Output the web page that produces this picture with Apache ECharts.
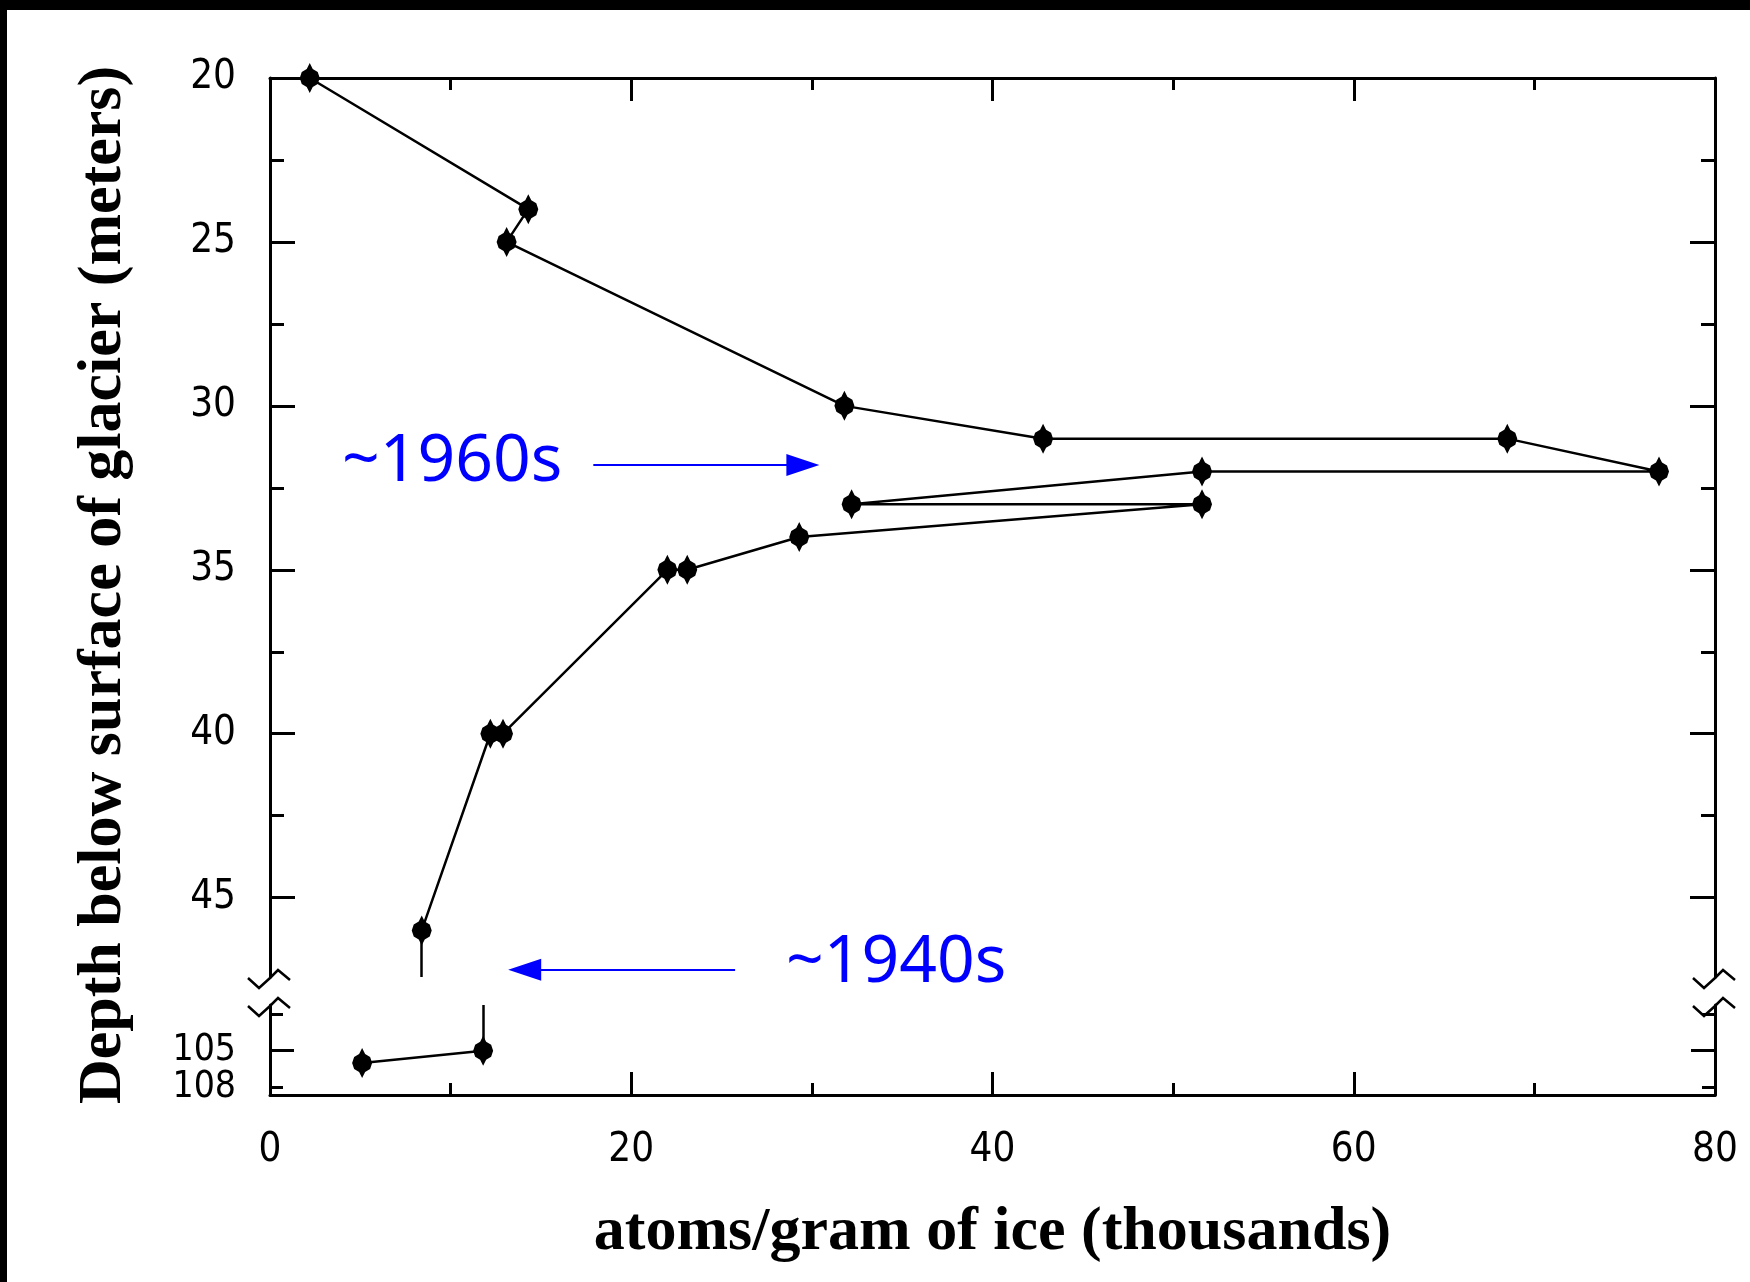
<!DOCTYPE html>
<html>
<head>
<meta charset="utf-8">
<script src="https://cdn.jsdelivr.net/npm/echarts@6/dist/echarts.min.js"></script>
<style>
  html, body { margin: 0; padding: 0; background: #fff; }
  #chart { width: 1750px; height: 1282px; }
</style>
</head>
<body>
<div id="chart"></div>
<script>
// upper section of the core (20 - 46 m)
const atomsUpper = [2.2, 14.3, 13.1, 31.8, 42.8, 68.5, 76.9, 51.6, 32.2, 51.6, 29.3, 23.1, 22.0, 12.9, 12.2, 8.4]
const depthUpper = [20, 24, 25, 30, 31, 31, 32, 32, 33, 33, 34, 35, 35, 40, 40, 46]
// lower section (105 - 108 m)
const atomsLower = [11.8, 5.1]
const depthLower = [105, 106]

const xTicks = [0, 20, 40, 60, 80]
const depthTicksUpper = [20, 25, 30, 35, 40, 45]
const depthMinorUpper = [22.5, 27.5, 32.5, 37.5, 42.5]
const depthTicksLower = [105]
const depthMinorLower = [102, 108]
const depthLabelsLower = [105, 108]

// axis limits either side of the break
const upperRange = [20, 47.42]
const lowerRange = [101.26, 108.63]

// annotation arrows (data coords of the upper panel)
const arrow1960 = [[17.9, 31.8], [29.5, 31.8]]
const arrow1940 = [[25.75, 47.2], [14.1, 47.2]]

const black = '#000'
const blue = '#0000ff'
const tickFont = '"DejaVu Sans Condensed", "Liberation Sans Narrow", sans-serif'
const serif = '"Liberation Serif", "DejaVu Serif", serif'
const diamond = 'path://M10,0 L13,6 L18,9 L20,15 L18,21 L13,24 L10,30 L7,24 L2,21 L0,15 L2,9 L7,6 Z'
const stroke = { color: black, width: 3 }

function atomsAxis(gridIndex, position, withLabels) {
  return {
    type: 'value',
    gridIndex: gridIndex,
    position: position,
    min: xTicks[0],
    max: xTicks[xTicks.length - 1],
    interval: 20,
    axisLine: { show: true, onZero: false, lineStyle: stroke },
    axisTick: { show: true, inside: true, length: 23, lineStyle: stroke },
    minorTick: { show: true, splitNumber: 2, length: 12, lineStyle: stroke },
    axisLabel: { show: withLabels, margin: 36, fontFamily: tickFont, fontSize: 40, color: black },
    splitLine: { show: false },
    name: withLabels ? 'atoms/gram of ice (thousands)' : '',
    nameLocation: 'middle',
    nameGap: 107,
    nameTextStyle: { fontFamily: serif, fontWeight: 'bold', fontSize: 62, color: black }
  }
}

// each side gets a long-tick axis and a short-tick axis; a label sits on the axis owning its tick
function depthAxes(gridIndex, range, major, minor, labels, majorLen, minorLen, fontSize, shift) {
  const axes = []
  ;['left', 'right'].forEach(function (pos) {
    [[major, majorLen, true], [minor, minorLen, false]].forEach(function (set) {
      const own = labels.filter(function (v) { return set[0].indexOf(v) >= 0 })
      axes.push({
        type: 'value', gridIndex: gridIndex, position: pos, inverse: true,
        min: range[0], max: range[1],
        axisLine: { show: set[2], onZero: false, lineStyle: stroke },
        axisTick: { show: true, inside: true, length: set[1], customValues: set[0], lineStyle: stroke },
        axisLabel: {
          show: pos === 'left' && own.length > 0, customValues: own, margin: 34,
          padding: [shift, 0, 0, 0],
          fontFamily: tickFont, fontSize: fontSize, color: black
        },
        splitLine: { show: false }
      })
    })
  })
  return axes
}

function breakMark(x, y) {
  return {
    type: 'polyline',
    shape: { points: [[x - 22, y], [x - 11, y + 10], [x, y], [x + 8, y - 8], [x + 20, y + 2]] },
    style: { stroke: black, lineWidth: 2.5, fill: null }
  }
}

function arrow(pts) {
  return [
    { coord: pts[0], symbol: 'none' },
    { coord: pts[1], symbol: 'triangle', symbolSize: [22, 33] }
  ]
}

const nUp = atomsUpper.length - 1

const chart = echarts.init(document.getElementById('chart'))
const option = {
  animation: false,
  backgroundColor: '#fff',
  grid: [
    { left: 270, right: 35, top: 78, height: 899, outerBoundsMode: 'none' },
    { left: 270, right: 35, top: 1005, height: 90, outerBoundsMode: 'none' }
  ],
  xAxis: [
    atomsAxis(0, 'top', false),
    atomsAxis(1, 'bottom', true)
  ],
  yAxis: depthAxes(0, upperRange, depthTicksUpper, depthMinorUpper, depthTicksUpper, 25, 14, 40, 6)
    .concat(depthAxes(1, lowerRange, depthTicksLower, depthMinorLower, depthLabelsLower, 24, 13, 37, 8)),
  series: [
    {
      type: 'line',
      xAxisIndex: 0,
      yAxisIndex: 0,
      data: atomsUpper.map(function (a, i) { return [a, depthUpper[i]] }),
      symbol: diamond,
      symbolSize: [20, 30],
      itemStyle: { color: black },
      lineStyle: { color: black, width: 2.5 },
      silent: true,
      markLine: {
        silent: true,
        symbol: 'none',
        label: { show: false },
        lineStyle: { color: black, width: 2.5, type: 'solid' },
        data: [[
          { coord: [atomsUpper[nUp], depthUpper[nUp]] },
          { coord: [atomsUpper[nUp], upperRange[1]] }
        ]]
      }
    },
    {
      type: 'line',
      xAxisIndex: 1,
      yAxisIndex: 4,
      data: atomsLower.map(function (a, i) { return [a, depthLower[i]] }),
      symbol: diamond,
      symbolSize: [20, 30],
      itemStyle: { color: black },
      lineStyle: { color: black, width: 2.5 },
      silent: true,
      markLine: {
        silent: true,
        symbol: 'none',
        label: { show: false },
        lineStyle: { color: black, width: 2.5, type: 'solid' },
        data: [[
          { coord: [atomsLower[0], depthLower[0]] },
          { coord: [atomsLower[0], lowerRange[0]] }
        ]]
      }
    },
    {
      type: 'line',
      xAxisIndex: 0,
      yAxisIndex: 0,
      data: [],
      silent: true,
      markLine: {
        silent: true,
        label: { show: false },
        lineStyle: { color: blue, width: 2, type: 'solid' },
        itemStyle: { color: blue },
        data: [arrow(arrow1960), arrow(arrow1940)]
      }
    }
  ],
  graphic: [
    { type: 'rect', shape: { x: 0, y: 0, width: 1750, height: 10 }, style: { fill: black } },
    { type: 'rect', shape: { x: 0, y: 0, width: 7, height: 1282 }, style: { fill: black } },
    {
      type: 'text', x: 104, y: 585, rotation: Math.PI / 2,
      style: {
        text: 'Depth below surface of glacier (meters)',
        font: 'bold 62px ' + serif, fill: black,
        align: 'center', verticalAlign: 'middle', textAlign: 'center', textVerticalAlign: 'middle'
      }
    },
    {
      type: 'text', x: 342, y: 462,
      style: {
        text: '~1960s', font: '66px "Noto Sans"', fill: blue,
        align: 'left', verticalAlign: 'middle', textAlign: 'left', textVerticalAlign: 'middle'
      }
    },
    {
      type: 'text', x: 786, y: 963,
      style: {
        text: '~1940s', font: '66px "Noto Sans"', fill: blue,
        align: 'left', verticalAlign: 'middle', textAlign: 'left', textVerticalAlign: 'middle'
      }
    },
    breakMark(270, 978), breakMark(270, 1006),
    breakMark(1715, 978), breakMark(1715, 1006)
  ]
}
chart.setOption(option)
</script>
</body>
</html>
